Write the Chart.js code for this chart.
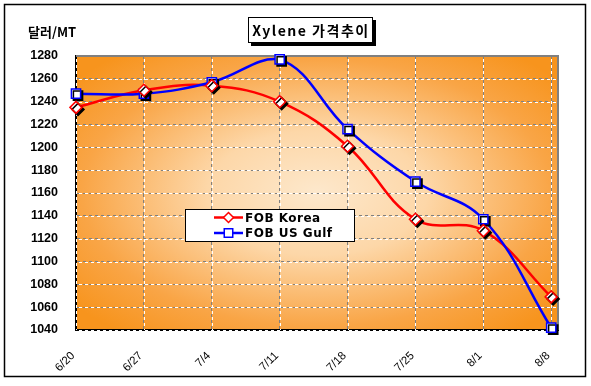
<!DOCTYPE html>
<html>
<head>
<meta charset="utf-8">
<script src="https://cdn.jsdelivr.net/npm/chart.js@4"></script>
<style>
  html, body { margin: 0; padding: 0; background: #fff; }
  #wrap { width: 591px; height: 386px; }
</style>
</head>
<body>
<div id="wrap"><canvas id="xyleneChart" width="591" height="386"></canvas></div>
<script>
// data
const dates = ["6/20", "6/27", "7/4", "7/11", "7/18", "7/25", "8/1", "8/8"];
const fobKorea = [1235, 1250, 1254, 1240, 1201, 1137, 1127, 1069];
const fobUsGulf = [1247, 1247, 1257, 1277, 1216, 1170, 1137, 1042];
const yTicks = [1040, 1060, 1080, 1100, 1120, 1140, 1160, 1180, 1200, 1220, 1240, 1260, 1280];

const titleText = "Xylene 가격추이";
const yTitleText = "달러/MT";

function toPoints(arr) {
    return arr.map(function (v, i) { return { x: i, y: v }; });
}

// frame, plot background, grid overlay, title and legend
const decorPlugin = {
    id: "decor",
    beforeDraw: function (chart) {
        const ctx = chart.ctx;
        const a = chart.chartArea;
        ctx.save();
        ctx.fillStyle = "#fff";
        ctx.fillRect(0, 0, chart.width, chart.height);
        ctx.strokeStyle = "#000";
        ctx.lineWidth = 1.5;
        ctx.strokeRect(4.5, 4.5, 581, 372);

        // orange gradient from the middle of the plot
        const cx = (a.left + a.right) / 2;
        const cy = (a.top + a.bottom) / 2;
        ctx.beginPath();
        ctx.rect(a.left, a.top, a.right - a.left, a.bottom - a.top);
        ctx.clip();
        ctx.translate(cx, cy);
        ctx.scale((a.right - a.left) / 2, (a.bottom - a.top) / 2);
        const g = ctx.createRadialGradient(0, 0, 0, 0, 0, 1.3);
        g.addColorStop(0, "#fde8cc");
        g.addColorStop(0.35, "#fdd7a8");
        g.addColorStop(0.75, "#f9a546");
        g.addColorStop(1, "#f7941d");
        ctx.fillStyle = g;
        ctx.fillRect(-1, -1, 2, 2);
        ctx.restore();
    },
    beforeDatasetsDraw: function (chart) {
        // white dashes between the grey ones
        const ctx = chart.ctx;
        const a = chart.chartArea;
        const xs = chart.scales.x;
        const ys = chart.scales.y;
        ctx.save();
        ctx.strokeStyle = "#ffffff";
        ctx.lineWidth = 1;
        ctx.setLineDash([3, 3]);
        ctx.lineDashOffset = 3;
        yTicks.forEach(function (v) {
            const y = Math.round(ys.getPixelForValue(v)) + 0.5;
            ctx.beginPath();
            ctx.moveTo(a.left, y);
            ctx.lineTo(a.right, y);
            ctx.stroke();
        });
        dates.forEach(function (d, i) {
            const x = Math.round(xs.getPixelForValue(i)) + 0.5;
            ctx.beginPath();
            ctx.moveTo(x, a.top);
            ctx.lineTo(x, a.bottom);
            ctx.stroke();
        });
        ctx.setLineDash([]);
        // grey top and right edge of the plot
        ctx.strokeStyle = "#808080";
        ctx.lineWidth = 2;
        ctx.beginPath();
        ctx.moveTo(a.left, a.top);
        ctx.lineTo(a.right, a.top);
        ctx.lineTo(a.right, a.bottom);
        ctx.stroke();
        ctx.restore();
    },
    beforeDatasetDraw: function (chart, args) {
        if (chart.data.datasets[args.index].markerShadow) {
            const ctx = chart.ctx;
            ctx.save();
            ctx.shadowColor = "#000";
            ctx.shadowOffsetX = 2;
            ctx.shadowOffsetY = 2;
            ctx.shadowBlur = 0;
        }
    },
    afterDatasetDraw: function (chart, args) {
        if (chart.data.datasets[args.index].markerShadow) {
            chart.ctx.restore();
        }
    },
    afterDraw: function (chart) {
        const ctx = chart.ctx;
        ctx.save();
        // title box with shadow
        ctx.fillStyle = "#000";
        ctx.fillRect(251, 20, 125, 26);
        ctx.fillStyle = "#fff";
        ctx.fillRect(248, 17, 125, 26);
        ctx.strokeStyle = "#000";
        ctx.lineWidth = 1;
        ctx.strokeRect(248.5, 17.5, 124, 25);
        ctx.fillStyle = "#000";
        ctx.font = "bold 14px 'Noto Sans CJK KR'";
        ctx.textBaseline = "middle";
        ctx.textAlign = "center";
        ctx.letterSpacing = "1.5px";
        ctx.fillText(titleText, 311, 31);

        // y axis title
        ctx.font = "bold 13px 'Noto Sans CJK KR'";
        ctx.textAlign = "left";
        ctx.letterSpacing = "0px";
        ctx.fillText(yTitleText, 28, 32);

        // legend
        ctx.fillStyle = "#fff";
        ctx.fillRect(185, 209, 170, 33);
        ctx.strokeStyle = "#000";
        ctx.strokeRect(185.5, 209.5, 169, 32);
        const rows = [
            { label: "FOB Korea", color: "#ff0000", style: "rectRot", r: 5, y: 217.5 },
            { label: "FOB US Gulf", color: "#0000ff", style: "rect", r: 6, y: 233 }
        ];
        rows.forEach(function (row) {
            ctx.strokeStyle = row.color;
            ctx.lineWidth = 2.5;
            ctx.beginPath();
            ctx.moveTo(214, row.y);
            ctx.lineTo(243, row.y);
            ctx.stroke();
            ctx.fillStyle = "#fff";
            ctx.lineWidth = 1.5;
            Chart.helpers.drawPoint(ctx, { pointStyle: row.style, radius: row.r, rotation: 0, borderWidth: 1.5 }, 228.5, row.y);
            ctx.fillStyle = "#000";
            ctx.font = "bold 12px 'DejaVu Sans'";
            ctx.letterSpacing = "0.5px";
            ctx.textAlign = "left";
            ctx.fillText(row.label, 245, row.y + 1);
        });
        ctx.restore();
    }
};

const ctx = document.getElementById("xyleneChart").getContext("2d");
const xyleneChart = new Chart(ctx, {
    type: "line",
    data: {
        datasets: [
            {
                label: "FOB Korea markers",
                data: toPoints(fobKorea),
                showLine: false,
                pointStyle: "rectRot",
                pointRadius: 6,
                pointBackgroundColor: "#fff",
                pointBorderColor: "#ff0000",
                pointBorderWidth: 1.5,
                markerShadow: true,
                clip: false
            },
            {
                label: "FOB US Gulf markers",
                data: toPoints(fobUsGulf),
                showLine: false,
                pointStyle: "rect",
                pointRadius: 6.5,
                pointBackgroundColor: "#fff",
                pointBorderColor: "#0000ff",
                pointBorderWidth: 1.5,
                markerShadow: true,
                clip: false
            },
            {
                label: "FOB US Gulf",
                data: toPoints(fobUsGulf),
                borderColor: "#0000ff",
                borderWidth: 2.5,
                pointRadius: 0,
                tension: 0.4,
                fill: false,
                clip: false
            },
            {
                label: "FOB Korea",
                data: toPoints(fobKorea),
                borderColor: "#ff0000",
                borderWidth: 2.5,
                pointRadius: 0,
                tension: 0.4,
                fill: false,
                clip: false
            }
        ]
    },
    options: {
        responsive: false,
        animation: false,
        events: [],
        layout: {
            padding: { left: 6, top: 56, right: 33, bottom: 0 }
        },
        plugins: {
            legend: { display: false },
            title: { display: false },
            tooltip: { enabled: false }
        },
        scales: {
            x: {
                type: "linear",
                min: 0,
                max: 7.1,
                afterBuildTicks: function (scale) {
                    scale.ticks = dates.map(function (d, i) { return { value: i }; });
                },
                afterFit: function (scale) { scale.height = 56; },
                grid: {
                    color: "#808080",
                    lineWidth: 1,
                    drawTicks: false
                },
                border: { color: "#000", width: 2, dash: [3, 3] },
                ticks: {
                    autoSkip: false,
                    minRotation: 45,
                    maxRotation: 45,
                    padding: 19,
                    labelOffset: -3,
                    color: "#000",
                    font: { family: "'Liberation Sans', Arial", size: 11.5 },
                    callback: function (value) { return dates[value]; }
                }
            },
            y: {
                min: 1040,
                max: 1280,
                afterBuildTicks: function (scale) {
                    scale.ticks = yTicks.map(function (v) { return { value: v }; });
                },
                afterFit: function (scale) { scale.width = 70; },
                grid: {
                    color: "#808080",
                    lineWidth: 1,
                    drawTicks: false
                },
                border: { color: "#000", width: 2, dash: [3, 3] },
                ticks: {
                    padding: 18,
                    color: "#000",
                    font: { family: "'Liberation Sans', Arial", size: 12.5, weight: "bold" },
                    callback: function (value) { return String(value); }
                }
            }
        }
    },
    plugins: [decorPlugin]
});
</script>
</body>
</html>
